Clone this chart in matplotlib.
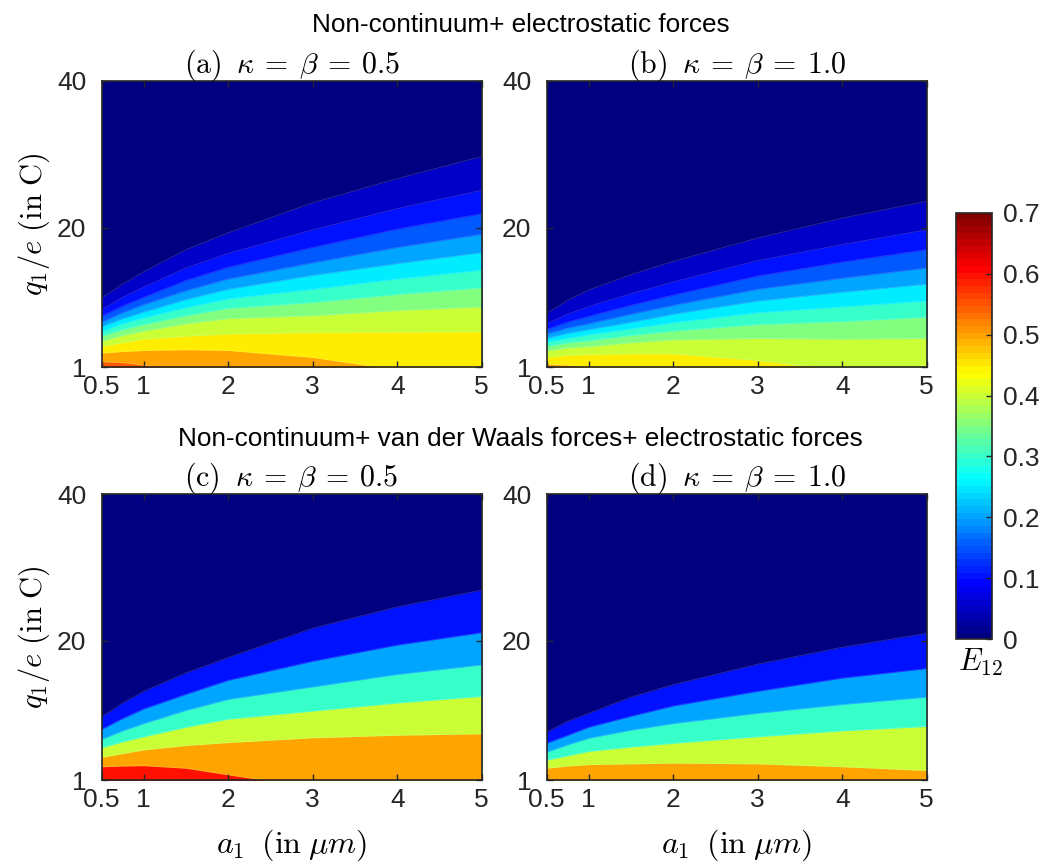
import numpy as np
import matplotlib
matplotlib.use("Agg")
import matplotlib.pyplot as plt
from matplotlib.colors import LinearSegmentedColormap, ListedColormap, Normalize
from matplotlib.cm import ScalarMappable

plt.rcParams['font.family'] = ['Liberation Sans', 'DejaVu Sans']
plt.rcParams['mathtext.fontset'] = 'cm'

a1 = [0.5, 0.75, 1, 1.5, 2, 3, 4, 5]

# E12 levels: top row every 0.05, bottom row every 0.1
levels_top = [0.05, 0.10, 0.15, 0.20, 0.25, 0.30, 0.35, 0.40, 0.45, 0.50, 0.55]
levels_bot = [0.1, 0.2, 0.3, 0.4, 0.5, 0.6]

# q1/e on each contour edge, one row per level
edges_a = [
    [10.4, 12.3, 14.0, 17.0, 19.3, 23.4, 26.7, 29.7],
    [8.8, 10.5, 11.9, 14.5, 16.5, 19.7, 22.6, 25.1],
    [7.9, 9.3, 10.5, 12.8, 14.6, 17.3, 19.8, 21.9],
    [7.1, 8.4, 9.5, 11.4, 13.0, 15.2, 17.3, 19.1],
    [6.5, 7.6, 8.5, 10.2, 11.6, 13.5, 15.1, 16.6],
    [5.8, 6.9, 7.7, 9.1, 10.3, 11.6, 13.0, 14.2],
    [5.2, 6.1, 6.8, 8.0, 9.0, 9.8, 10.9, 11.8],
    [4.5, 5.3, 5.9, 6.9, 7.6, 8.0, 8.7, 9.2],
    [3.8, 4.3, 4.8, 5.2, 5.5, 5.7, 5.75, 5.8],
    [2.9, 3.1, 3.25, 3.35, 3.25, 2.3, 0.6, 0.0],
    [1.7, 1.6, 1.25, 0.5, 0.0, 0.0, 0.0, 0.0],
]
edges_b = [
    [8.3, 10.1, 11.5, 13.6, 15.4, 18.6, 21.3, 23.6],
    [6.9, 8.2, 9.25, 11.0, 12.6, 15.5, 17.7, 19.7],
    [6.1, 7.1, 7.9, 9.4, 10.8, 13.4, 15.3, 17.0],
    [5.5, 6.3, 6.9, 8.2, 9.4, 11.6, 13.1, 14.5],
    [4.9, 5.6, 6.1, 7.1, 8.2, 10.0, 11.2, 12.3],
    [4.4, 4.9, 5.4, 6.2, 7.05, 8.4, 9.2, 10.0],
    [3.8, 4.3, 4.6, 5.3, 5.9, 6.8, 7.2, 7.8],
    [3.2, 3.6, 3.8, 4.3, 4.7, 4.9, 4.8, 4.9],
    [2.3, 2.6, 2.7, 2.8, 2.8, 1.9, 0.5, 0.0],
    [1.4, 1.25, 0.9, 0.0, 0.0, 0.0, 0.0, 0.0],
    [0.0, 0.0, 0.0, 0.0, 0.0, 0.0, 0.0, 0.0],
]
edges_c = [
    [9.6, 11.5, 13.1, 15.6, 17.7, 21.7, 24.6, 26.9],
    [7.9, 9.4, 10.7, 12.7, 14.6, 17.2, 19.4, 21.1],
    [6.55, 7.7, 8.7, 10.5, 12.0, 13.7, 15.4, 16.7],
    [5.4, 6.2, 6.9, 8.2, 9.3, 10.4, 11.5, 12.4],
    [4.1, 4.6, 5.1, 5.7, 6.1, 6.75, 7.1, 7.3],
    [2.8, 2.9, 2.95, 2.6, 1.7, 0.0, 0.0, 0.0],
]
edges_d = [
    [7.5, 9.0, 10.1, 12.3, 14.0, 16.8, 19.1, 21.0],
    [6.0, 7.1, 8.2, 9.7, 11.1, 13.1, 14.9, 16.2],
    [4.8, 5.8, 6.7, 7.8, 8.7, 10.1, 11.3, 12.3],
    [3.7, 4.3, 4.9, 5.5, 6.0, 6.9, 7.7, 8.3],
    [2.6, 2.9, 3.1, 3.2, 3.3, 3.2, 2.8, 2.3],
]

titles = [r'$\mathrm{(a)}\;\;\kappa\:=\:\beta\:=\:0.5$', r'$\mathrm{(b)}\;\;\kappa\:=\:\beta\:=\:1.0$',
          r'$\mathrm{(c)}\;\;\kappa\:=\:\beta\:=\:0.5$', r'$\mathrm{(d)}\;\;\kappa\:=\:\beta\:=\:1.0$']
x_ticks = [0.5, 1, 2, 3, 4, 5]
x_ticklabels = ['0.5', '1', '2', '3', '4', '5']
y_ticks = [1, 20, 40]
y_ticklabels = ['1', '20', '40']
cb_ticks = [0, 0.1, 0.2, 0.3, 0.4, 0.5, 0.6, 0.7]
cb_ticklabels = ['0', '0.1', '0.2', '0.3', '0.4', '0.5', '0.6', '0.7']
E_MAX = 0.7

# matlab style jet
jet = LinearSegmentedColormap.from_list('mjet', [
    (0.0, (0, 0, 0.5)), (0.125, (0, 0, 1)), (0.375, (0, 1, 1)),
    (0.625, (1, 1, 0)), (0.875, (1, 0, 0)), (1.0, (0.5, 0, 0))])
jet64 = ListedColormap(jet(np.linspace(0, 1, 64)))

DARK = '#262626'
W, H = 1039, 863
fig = plt.figure(figsize=(W / 100, H / 100), dpi=100)

def box(l, t, r, b):
    return [l / W, 1 - b / H, (r - l) / W, (b - t) / H]

panels = [
    (box(101.5, 81, 481.7, 367), levels_top, edges_a, titles[0], True, False),
    (box(546.5, 81, 926.7, 367), levels_top, edges_b, titles[1], False, False),
    (box(101.5, 494, 481.7, 780), levels_bot, edges_c, titles[2], True, True),
    (box(546.5, 494, 926.7, 780), levels_bot, edges_d, titles[3], False, True),
]

for pos, levels, edges, title, ylab, xlab in panels:
    ax = fig.add_axes(pos)
    ax.fill_between(a1, 0, 45, color=jet(0.0), lw=0)
    for lev, q in zip(levels, edges):
        ax.fill_between(a1, 0, q, color=jet(lev / E_MAX), lw=0)
        # faint seam like the matlab contour edges
        ax.plot(a1, q, color='white', alpha=0.18, lw=0.6)
    ax.set_xlim(0.5, 5)
    ax.set_ylim(1, 40)
    ax.set_xticks(x_ticks)
    ax.set_xticklabels(x_ticklabels)
    ax.set_yticks(y_ticks)
    ax.set_yticklabels(y_ticklabels)
    ax.tick_params(direction='in', top=True, right=True, length=4, width=1.0,
                   colors=DARK, labelsize=19)
    ax.tick_params(axis='x', pad=6)
    ax.tick_params(axis='y', pad=11)
    for s in ax.spines.values():
        s.set_color(DARK)
        s.set_linewidth(1.2)
    ax.set_title(title, fontsize=21.5, pad=6)
    if ylab:
        ax.set_ylabel(r'$q_1/e\ (\mathrm{in\ C})$', fontsize=22)
        ax.yaxis.set_label_coords(-0.13, 0.5)
    if xlab:
        ax.set_xlabel(r'$a_1\;\;(\mathrm{in}\;\mu m)$', fontsize=23, va='top')
        ax.xaxis.set_label_coords(0.5, -0.165)

fig.text(521 / W, 1 - 32 / H, 'Non-continuum+ electrostatic forces',
         ha='center', va='baseline', fontsize=18.8, color='k')
fig.text(520 / W, 1 - 446 / H,
         'Non-continuum+ van der Waals forces+ electrostatic forces',
         ha='center', va='baseline', fontsize=18.8, color='k')

cax = fig.add_axes(box(956, 212.7, 991.7, 639.3))
cb = fig.colorbar(ScalarMappable(norm=Normalize(0, E_MAX), cmap=jet64), cax=cax)
cb.set_ticks(cb_ticks)
cb.set_ticklabels(cb_ticklabels)
cax.tick_params(direction='in', length=4, width=1.0, colors=DARK, labelsize=19, pad=8)
cb.outline.set_edgecolor(DARK)
cb.outline.set_linewidth(1.2)
fig.text(980 / W, 1 - 662 / H, r'$E_{12}$', ha='center', va='center', fontsize=22)

fig.savefig('out.png', dpi=100)
